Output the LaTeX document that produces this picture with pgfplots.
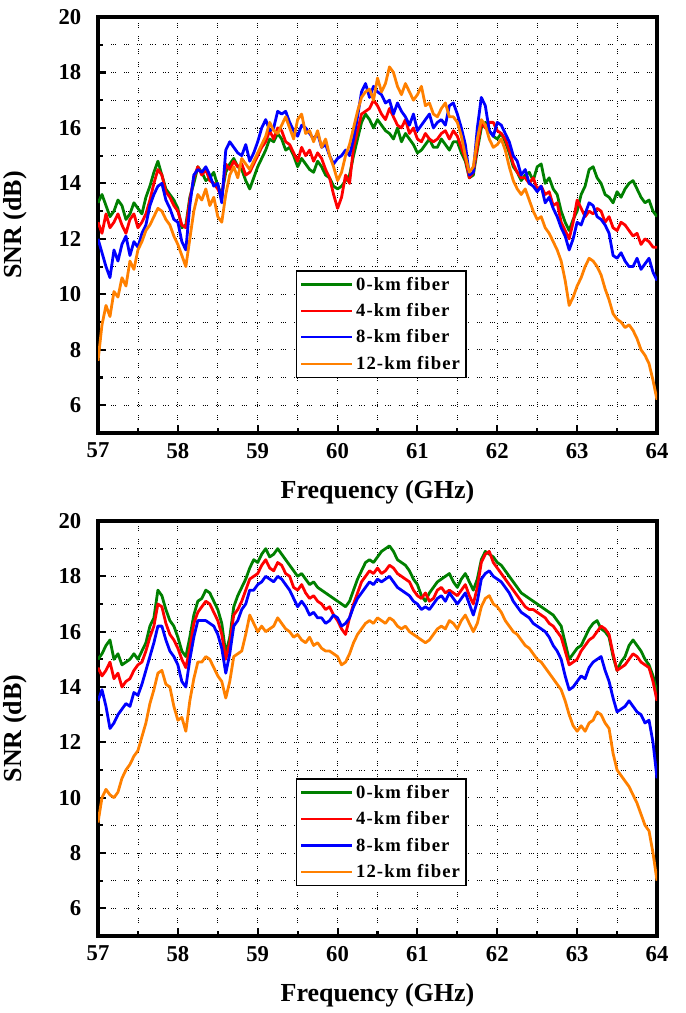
\documentclass[border=0pt]{standalone}
\usepackage{fontspec}
\setmainfont{Liberation Serif}
\usepackage{pgfplots}
\usepackage{pgfplotstable}
\pgfplotsset{compat=1.18}
\definecolor{cG}{RGB}{0,128,0}
\definecolor{cR}{RGB}{255,0,0}
\definecolor{cB}{RGB}{0,0,255}
\definecolor{cO}{RGB}{255,128,0}

\pgfplotstableread{
x G R B O
57.00 13.3 12.6 12.0 7.6
57.05 13.6 12.2 11.5 8.9
57.10 13.2 12.9 11.0 9.6
57.15 12.8 12.4 10.6 9.2
57.20 13.0 12.6 11.6 10.1
57.25 13.4 12.9 11.2 9.9
57.30 13.2 12.5 11.8 10.6
57.35 12.7 12.2 12.1 10.3
57.40 12.9 12.7 11.4 11.2
57.45 13.3 12.9 11.9 10.9
57.50 13.1 12.4 11.7 11.6
57.55 12.9 12.6 12.2 11.9
57.60 13.5 12.9 12.5 12.3
57.65 13.9 13.4 13.2 12.5
57.70 14.4 14.0 13.6 12.8
57.75 14.8 14.5 13.9 13.1
57.80 14.3 14.3 14.0 13.0
57.85 13.8 13.7 13.4 12.7
57.90 13.6 13.5 13.1 12.5
57.95 13.4 13.2 12.7 12.1
58.00 13.1 13.0 12.6 11.8
58.05 12.4 12.5 11.9 11.4
58.10 12.5 12.4 11.6 11.0
58.15 13.5 13.4 13.2 12.0
58.20 14.0 14.2 14.3 13.0
58.25 14.6 14.6 14.5 13.6
58.30 14.4 14.3 14.4 13.4
58.35 14.1 14.5 14.6 13.8
58.40 14.2 14.1 14.3 13.2
58.45 14.4 14.0 13.9 13.5
58.50 13.9 13.8 14.0 12.8
58.55 13.6 13.5 13.3 12.6
58.60 14.4 14.7 15.2 13.6
58.65 14.7 14.5 15.5 14.3
58.70 14.9 14.8 15.3 14.6
58.75 14.6 14.6 15.1 14.2
58.80 14.5 14.7 15.0 14.9
58.85 14.1 14.3 15.4 14.7
58.90 13.8 14.4 14.8 14.5
58.95 14.2 14.7 15.1 14.8
59.00 14.6 15.0 15.5 15.1
59.05 14.9 15.3 16.0 15.4
59.10 15.2 15.5 16.3 15.7
59.15 15.6 15.9 15.9 16.2
59.20 15.5 15.6 16.0 15.9
59.25 15.8 16.0 16.6 15.8
59.30 15.6 15.9 16.5 16.1
59.35 15.2 15.5 16.6 16.4
59.40 15.3 15.4 16.2 16.0
59.45 15.0 15.1 15.9 15.6
59.50 14.6 14.8 15.7 16.3
59.55 14.9 15.3 16.1 16.5
59.60 14.7 15.0 16.0 15.8
59.65 14.5 15.2 15.8 15.9
59.70 14.4 14.8 15.6 15.5
59.75 14.8 15.1 15.8 15.9
59.80 14.6 14.9 15.3 15.3
59.85 14.3 14.5 15.4 15.6
59.90 14.2 14.2 15.0 15.0
59.95 13.9 13.6 14.7 14.6
60.00 13.8 13.1 14.9 14.1
60.05 13.9 13.5 15.0 14.4
60.10 14.1 14.3 15.2 15.0
60.15 14.3 14.0 15.0 15.4
60.20 15.0 15.3 15.6 16.0
60.25 15.6 15.9 16.4 16.6
60.30 16.2 16.5 17.3 17.1
60.35 16.5 16.6 17.6 17.3
60.40 16.3 16.7 17.1 17.4
60.45 16.0 17.0 17.5 17.0
60.50 16.3 16.8 17.3 17.8
60.55 16.1 16.5 17.2 17.3
60.60 15.9 16.3 16.9 17.6
60.65 15.8 16.7 17.0 18.2
60.70 15.6 16.4 16.5 18.0
60.75 16.0 16.1 16.9 17.5
60.80 15.5 16.0 16.6 17.2
60.85 15.8 16.3 16.4 17.6
60.90 15.6 15.8 16.1 17.3
60.95 15.4 16.0 16.5 17.0
61.00 15.1 15.6 15.9 17.2
61.05 15.2 15.5 16.1 17.5
61.10 15.4 15.8 16.3 16.8
61.15 15.6 15.6 16.5 16.9
61.20 15.3 15.5 16.0 16.5
61.25 15.3 15.6 16.2 16.4
61.30 15.6 15.8 16.3 16.7
61.35 15.4 15.9 16.1 16.9
61.40 15.2 15.6 16.8 16.4
61.45 15.5 15.9 16.9 16.4
61.50 15.5 15.7 16.5 16.2
61.55 15.1 15.3 16.0 15.7
61.60 14.8 14.9 15.4 15.0
61.65 14.2 14.2 14.3 14.4
61.70 14.3 14.4 14.4 14.6
61.75 15.2 15.3 16.0 15.6
61.80 16.0 16.2 17.1 16.3
61.85 16.2 16.0 16.8 16.1
61.90 15.9 16.2 15.9 15.6
61.95 15.7 16.2 15.7 15.3
62.00 15.6 15.9 16.2 15.4
62.05 15.8 15.8 16.1 15.6
62.10 15.5 15.6 15.8 15.2
62.15 15.1 15.2 15.5 14.6
62.20 14.6 14.7 15.0 14.1
62.25 14.4 14.4 14.8 13.8
62.30 14.1 14.2 14.3 13.6
62.35 14.3 14.2 14.5 13.8
62.40 14.4 14.0 14.0 13.4
62.45 14.1 14.2 13.9 13.0
62.50 14.6 13.8 13.7 12.7
62.55 14.7 13.9 13.9 12.8
62.60 14.0 13.6 13.3 12.4
62.65 14.2 13.7 13.5 12.2
62.70 13.8 13.2 13.1 11.9
62.75 13.6 13.3 12.8 11.6
62.80 13.0 12.6 12.4 11.2
62.85 12.6 12.3 12.1 10.5
62.90 12.3 12.0 11.6 9.6
62.95 12.7 12.6 12.0 9.9
63.00 13.0 13.4 12.6 10.3
63.05 13.6 13.1 12.5 10.6
63.10 13.9 12.8 12.9 11.0
63.15 14.5 13.0 13.3 11.3
63.20 14.6 12.9 13.2 11.2
63.25 14.2 13.1 12.8 11.0
63.30 14.0 13.0 12.7 10.7
63.35 13.6 12.6 12.5 10.2
63.40 13.5 12.8 12.2 9.8
63.45 13.3 12.4 11.4 9.3
63.50 13.7 12.3 11.3 9.1
63.55 13.5 12.6 11.5 9.0
63.60 13.8 12.5 11.2 8.8
63.65 14.0 12.3 11.0 8.9
63.70 14.1 12.1 11.0 8.7
63.75 13.8 12.2 11.3 8.4
63.80 13.5 11.8 10.9 8.0
63.85 13.3 12.0 11.1 7.8
63.90 13.4 11.9 11.3 7.5
63.95 13.0 11.7 10.8 6.9
64.00 12.8 11.7 10.5 6.2
}\topdata

\pgfplotstableread{
x G R B O
57.00 15.0 14.7 13.5 9.1
57.05 15.2 14.4 13.9 10.0
57.10 15.5 14.6 13.3 10.3
57.15 15.7 14.9 12.5 10.1
57.20 15.0 14.3 12.7 10.0
57.25 15.2 14.5 13.0 10.2
57.30 14.8 14.0 13.2 10.7
57.35 14.9 14.2 13.4 11.0
57.40 15.0 14.3 13.3 11.2
57.45 15.2 14.6 13.8 11.5
57.50 15.0 14.8 13.7 11.7
57.55 15.3 14.9 14.1 12.2
57.60 15.6 15.3 14.6 12.7
57.65 16.2 15.8 15.1 13.4
57.70 16.5 16.2 15.6 13.9
57.75 17.5 17.0 16.2 14.5
57.80 17.3 16.9 16.2 14.6
57.85 16.8 16.3 15.7 14.1
57.90 16.4 15.9 15.3 14.0
57.95 16.2 15.7 15.1 13.3
58.00 15.8 15.4 14.8 12.8
58.05 15.3 15.0 14.2 12.9
58.10 15.1 14.7 14.0 12.4
58.15 15.8 15.4 15.0 13.5
58.20 16.6 16.3 15.8 14.3
58.25 17.1 16.7 16.4 14.9
58.30 17.2 16.9 16.4 14.9
58.35 17.5 17.1 16.4 15.1
58.40 17.4 17.0 16.3 15.0
58.45 17.1 16.7 16.2 14.7
58.50 16.8 16.4 15.9 14.4
58.55 16.3 15.9 15.4 14.2
58.60 15.2 15.0 14.5 13.6
58.65 15.8 15.6 15.2 14.2
58.70 16.9 16.6 16.2 15.1
58.75 17.3 16.8 16.4 15.2
58.80 17.6 17.1 16.8 15.3
58.85 17.9 17.5 17.0 15.9
58.90 18.3 17.9 17.5 16.6
58.95 18.6 18.0 17.5 16.3
59.00 18.5 18.1 17.7 16.0
59.05 18.8 18.4 17.8 16.2
59.10 19.0 18.6 18.0 16.0
59.15 18.7 18.3 17.9 16.1
59.20 18.8 18.2 17.8 16.2
59.25 19.0 18.5 18.0 16.5
59.30 18.8 18.4 17.9 16.3
59.35 18.6 18.1 17.7 16.1
59.40 18.4 18.0 17.5 16.0
59.45 18.2 17.6 17.2 15.8
59.50 18.0 17.5 16.9 15.9
59.55 18.1 17.7 17.1 15.7
59.60 17.9 17.4 16.9 15.6
59.65 17.7 17.2 16.6 15.8
59.70 17.8 17.3 16.7 15.5
59.75 17.6 17.1 16.5 15.6
59.80 17.5 17.0 16.5 15.4
59.85 17.4 16.8 16.3 15.3
59.90 17.3 16.9 16.4 15.3
59.95 17.2 16.6 16.6 15.2
60.00 17.1 16.4 16.5 15.1
60.05 17.0 16.1 16.2 14.8
60.10 16.9 15.9 16.3 14.9
60.15 17.1 16.5 16.5 15.2
60.20 17.5 17.0 16.9 15.6
60.25 17.9 17.4 17.2 15.9
60.30 18.2 17.8 17.4 16.1
60.35 18.5 18.0 17.6 16.3
60.40 18.6 18.2 17.8 16.4
60.45 18.5 18.1 17.7 16.3
60.50 18.7 18.3 17.9 16.5
60.55 18.9 18.1 17.8 16.4
60.60 19.0 18.2 17.9 16.3
60.65 19.1 18.4 18.0 16.5
60.70 18.9 18.3 17.8 16.4
60.75 18.6 18.1 17.6 16.2
60.80 18.5 18.0 17.5 16.1
60.85 18.4 17.9 17.4 16.2
60.90 18.2 17.8 17.3 16.0
60.95 17.9 17.5 17.1 15.9
61.00 17.7 17.3 17.0 15.8
61.05 17.3 17.2 16.8 15.7
61.10 17.1 17.4 16.9 15.6
61.15 17.4 17.1 16.8 15.7
61.20 17.6 17.2 17.0 15.9
61.25 17.8 17.5 17.2 16.1
61.30 17.9 17.6 17.3 16.2
61.35 18.0 17.4 17.1 16.1
61.40 18.1 17.5 17.4 16.4
61.45 17.8 17.4 17.2 16.3
61.50 17.6 17.3 17.0 16.1
61.55 17.9 17.5 17.2 16.4
61.60 18.1 17.7 17.4 16.6
61.65 17.8 17.3 17.0 16.3
61.70 17.5 17.0 16.6 16.0
61.75 17.9 17.6 17.1 16.3
61.80 18.6 18.5 17.9 16.9
61.85 18.9 18.8 18.1 17.2
61.90 18.8 18.9 18.2 17.3
61.95 18.7 18.5 18.0 17.0
62.00 18.5 18.3 17.9 16.9
62.05 18.4 18.1 17.8 16.7
62.10 18.2 17.9 17.6 16.4
62.15 18.0 17.7 17.4 16.2
62.20 17.8 17.5 17.1 16.0
62.25 17.6 17.3 16.9 15.9
62.30 17.4 17.1 16.7 15.7
62.35 17.3 16.9 16.6 15.5
62.40 17.2 16.8 16.5 15.4
62.45 17.1 16.8 16.3 15.2
62.50 17.0 16.7 16.2 15.0
62.55 16.9 16.6 16.1 14.9
62.60 16.8 16.5 16.0 14.7
62.65 16.7 16.3 15.8 14.5
62.70 16.6 16.2 15.5 14.3
62.75 16.4 16.0 15.3 14.1
62.80 16.2 15.8 15.0 13.9
62.85 15.6 15.3 14.4 13.5
62.90 15.0 14.8 13.9 13.0
62.95 15.2 14.9 14.0 12.6
63.00 15.4 15.0 14.2 12.4
63.05 15.5 15.3 14.4 12.6
63.10 15.8 15.5 14.3 12.4
63.15 16.1 15.7 14.7 12.7
63.20 16.3 15.8 14.9 12.8
63.25 16.4 16.0 15.0 13.1
63.30 16.1 16.2 15.1 13.0
63.35 16.0 16.1 14.6 12.7
63.40 15.8 15.9 14.2 12.5
63.45 15.1 15.2 13.6 11.6
63.50 14.6 14.6 13.1 11.0
63.55 14.9 14.7 13.2 10.8
63.60 15.1 14.8 13.3 10.6
63.65 15.5 15.0 13.5 10.4
63.70 15.7 15.2 13.3 10.1
63.75 15.5 15.1 13.1 9.8
63.80 15.3 14.9 13.0 9.4
63.85 15.0 14.8 12.7 9.0
63.90 14.8 14.7 12.8 8.8
63.95 14.4 14.2 12.0 8.0
64.00 13.8 13.5 10.7 7.0
}\botdata

\pgfplotsset{
  snr/.style={
    scale only axis, width=419.25pt,
    xmin=57, xmax=64, ymin=5, ymax=20,
    xtick={57,58,...,64}, ytick={6,8,...,20},
    minor x tick num=1, minor y tick num=1,
    grid=both,
    major grid style={black, line width=0.6pt, dash pattern=on 0.6pt off 1pt on 0.6pt off 1pt on 0.6pt off 6pt},
    minor grid style={black, line width=0.6pt, dash pattern=on 0.6pt off 1pt on 0.6pt off 1pt on 0.6pt off 6pt},
    axis line style={line width=2.6pt},
    tick style={black, line width=1.6pt},
    major tick length=6pt, minor tick length=4pt,
    tick align=inside, xtick pos=lower, ytick pos=left,
    ticklabel style={font=\bfseries\fontsize{17}{17}\selectfont},
    xticklabel style={yshift=-4pt},
    yticklabel style={xshift=-9pt},
    /pgf/number format/assume math mode=true,
    xlabel={Frequency (GHz)}, ylabel={SNR (dB)},
    every axis x label/.style={at={(axis description cs:0.5,-0.142)}, anchor=center,
      font=\bfseries\fontsize{19.5}{19.5}\selectfont},
    every axis y label/.style={at={(axis description cs:-0.148,0.5)}, anchor=center, rotate=90,
      font=\bfseries\fontsize{19.5}{19.5}\selectfont},
    legend cell align=left,
    legend image code/.code={\draw[##1, line width=1.6pt] (0cm,0cm) -- (1.35cm,0cm);},
    legend style={anchor=north west, draw=black, line width=1pt, fill=white,
      font=\bfseries\fontsize{14}{16}\selectfont\addfontfeatures{LetterSpace=6},
      row sep=4.5pt, inner sep=2.5pt},
    every axis plot/.append style={line width=2.1pt, line join=round},
  }
}

\begin{document}
\begin{tikzpicture}
\useasboundingbox (0,0) rectangle (513.75pt,759.75pt);
\begin{axis}[snr, height=312pt, at={(73.5pt,435pt)}, anchor=south west,
  legend style={at={(axis cs:59.48,10.87)}}]
\addplot[cG] table[x=x,y=G] {\topdata};
\addplot[cR] table[x=x,y=R] {\topdata};
\addplot[cB] table[x=x,y=B] {\topdata};
\addplot[cO] table[x=x,y=O] {\topdata};
\legend{0-km fiber,4-km fiber,8-km fiber,12-km fiber}
\end{axis}
\begin{axis}[snr, height=311.25pt, at={(73.5pt,57.75pt)}, anchor=south west,
  legend style={at={(axis cs:59.48,10.7)}}]
\addplot[cG] table[x=x,y=G] {\botdata};
\addplot[cR] table[x=x,y=R] {\botdata};
\addplot[cB] table[x=x,y=B] {\botdata};
\addplot[cO] table[x=x,y=O] {\botdata};
\legend{0-km fiber,4-km fiber,8-km fiber,12-km fiber}
\end{axis}
\end{tikzpicture}
\end{document}
